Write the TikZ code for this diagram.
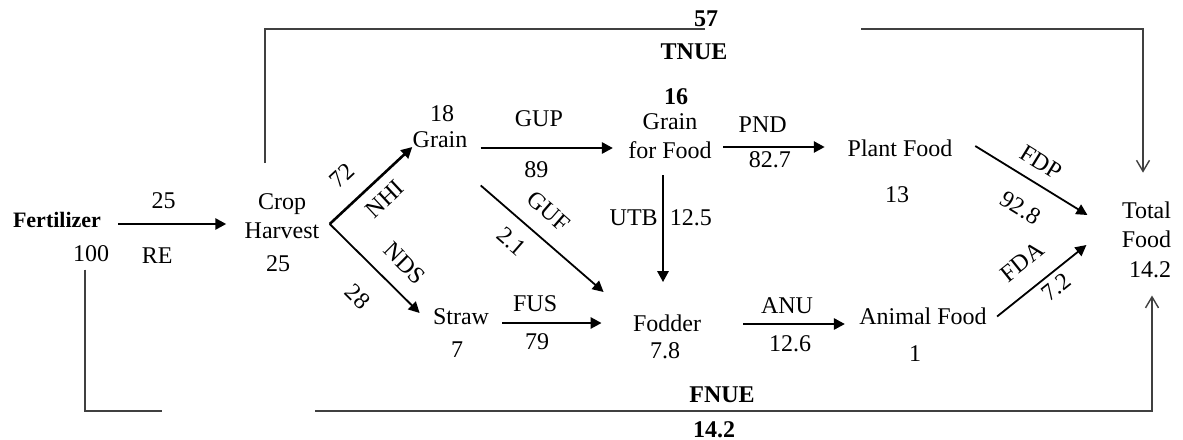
\documentclass[tikz,border=0pt]{standalone}
\usepackage{fontspec}
\setmainfont{Liberation Serif}
\usetikzlibrary{arrows.meta,positioning}

\begin{document}
\begin{tikzpicture}[
  x=0.5pt,y=-0.5pt,
  txt/.style={inner sep=2pt,align=center,font=\fontsize{12}{14.5}\selectfont},
  bval/.style={txt,font=\fontsize{12}{14.5}\selectfont\bfseries},
  lab/.style={inner sep=1pt,font=\fontsize{12}{14.5}\selectfont},
  flow/.style={-{Triangle[length=5.5pt,width=5.5pt]},line width=1.3pt},
  dflow/.style={-{Triangle[length=5.5pt,width=5.5pt]},line width=0.9pt},
  fb/.style={line width=0.7pt,draw=black!75},
  fbarr/.style={fb,-{Straight Barb[length=5.5pt,width=6.5pt]}}
]
\useasboundingbox[fill=white] (0,0) rectangle (1183,439);

\node[txt,font=\fontsize{11}{13}\selectfont\bfseries] (fert) at (57,220) {Fertilizer};
\node[txt] (v100) at (91,254) {100};
\node[txt] (crop) at (282,216) {Crop\\Harvest};
\node[txt] (v25) at (278,264) {25};
\node[txt] (grain) at (440,140) {Grain};
\node[txt] (v18) at (442,114) {18};
\node[txt] (straw) at (461,317) {Straw};
\node[txt] (v7) at (457,350) {7};
\node[txt] (gff) at (670,136.5) {Grain\\for Food};
\node[bval] (v16) at (676,97) {16};
\node[txt] (fodder) at (667,323) {Fodder};
\node[txt] (v78) at (665,351) {7.8};
\node[txt] (plant) at (900,148.5) {Plant Food};
\node[txt] (v13) at (897,195) {13};
\node[txt] (animal) at (923,316.5) {Animal Food};
\node[txt] (v1) at (915,354) {1};
\node[txt] (total) at (1146.5,225) {Total\\Food};
\node[txt] (v142) at (1150,270) {14.2};

\node[bval] (v57) at (706,19) {57};
\node[bval] (tnue) at (694,52) {TNUE};
\node[bval] (fnue) at (722,395) {FNUE};
\node[bval] (vf142) at (714,430) {14.2};
\coordinate (tg1) at (705,29);
\coordinate (tg2) at (861,29);
\coordinate (fg1) at (162,411);
\coordinate (fg2) at (315,411);

\draw[flow] ([xshift=6.5pt,yshift=-2pt]fert.east) -- node[lab,above=6pt,pos=0.42] (l25) {25} node[lab,below=10pt,pos=0.36] (lRE) {RE} ([xshift=-7pt,yshift=-4pt]crop.west);
\draw[flow] ([xshift=3pt,yshift=-4pt]crop.east) -- node[lab,sloped,above=8pt,pos=0.375] (l72) {72} node[lab,sloped,below=4pt,pos=0.51] (lNHI) {NHI} ([xshift=2pt,yshift=-3.5pt]grain.west);
\draw[dflow] ([xshift=3pt,yshift=-4pt]crop.east) -- node[lab,sloped,above=7pt,pos=0.64] (lNDS) {NDS} node[lab,sloped,below=10.5pt,pos=0.56] (l28) {28} ([xshift=-4.5pt,yshift=2pt]straw.west);
\draw[flow] ([xshift=4.5pt,yshift=-4pt]grain.east) -- node[lab,above=9pt,pos=0.44] (lGUP) {GUP} node[lab,below=5pt,pos=0.42] (l89) {89} ([xshift=-5.5pt,yshift=-5.75pt]gff.west);
\draw[dflow] ([xshift=4.5pt,yshift=-16.5pt]grain.south east) -- node[lab,sloped,above=7pt,pos=0.42] (lGUF) {GUF} node[lab,sloped,below=5.5pt,pos=0.37] (l21) {2.1} ([xshift=-12.5pt,yshift=15.5pt]fodder.west);
\draw[flow] ([xshift=4.5pt,yshift=-3pt]straw.east) -- node[lab,above=4pt,pos=0.33] (lFUS) {FUS} node[lab,below=3.5pt,pos=0.35] (l79) {79} ([xshift=-13.5pt]fodder.west);
\draw[flow] ([xshift=-3.5pt,yshift=-6pt]gff.south) -- node[lab,left=1pt,pos=0.4] (lUTB) {UTB} node[lab,right=1.75pt,pos=0.4] (l125) {12.5} ([xshift=-2pt,yshift=14pt]fodder.north);
\draw[flow] ([xshift=3.5pt,yshift=-5.25pt]gff.east) -- node[lab,above=5.5pt,pos=0.39] (lPND) {PND} node[lab,below=0.5pt,pos=0.46] (l827) {82.7} ([xshift=-9.25pt,yshift=0.75pt]plant.west);
\draw[flow] ([xshift=19pt,yshift=-0.5pt]fodder.east) -- node[lab,above=3.5pt,pos=0.43] (lANU) {ANU} node[lab,below=4pt,pos=0.46] (l126) {12.6} ([xshift=-5pt,yshift=-3.75pt]animal.west);
\draw[dflow] ([xshift=9.25pt,yshift=1.25pt]plant.east) -- node[lab,sloped,above=5pt,pos=0.49] (lFDP) {FDP} node[lab,sloped,below=9pt,pos=0.54] (l928) {92.8} ([xshift=-15pt,yshift=5pt]total.west);
\draw[dflow] ([xshift=3pt]animal.east) -- node[lab,sloped,above=8pt,pos=0.47] (lFDA) {FDA} node[lab,sloped,below=1.5pt,pos=0.56] (l72b) {7.2} ([xshift=-15.5pt,yshift=-10pt]total.west);

\draw[fb] ([xshift=-8.5pt,yshift=13pt]crop.north) |- (tg1);
\draw[fbarr] (tg2) -| ([xshift=-1.75pt,yshift=12.5pt]total.north);
\draw[fb] ([xshift=-3pt,yshift=-1.5pt]v100.south) |- (fg1);
\draw[fbarr] (fg2) -| ([xshift=1pt,yshift=-6.5pt]v142.south);
\end{tikzpicture}
\end{document}
